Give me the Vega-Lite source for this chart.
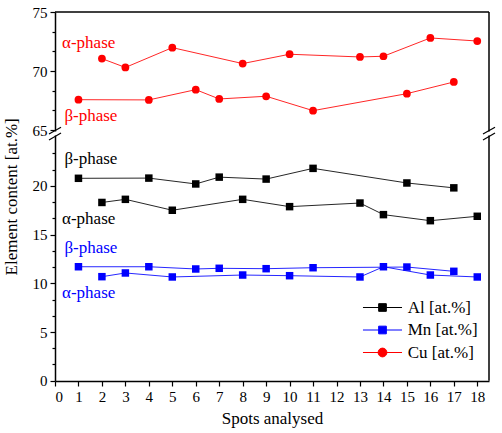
{
  "$schema": "https://vega.github.io/schema/vega-lite/v6.json",
  "width": 434,
  "height": 369,
  "autosize": {"type": "none"},
  "padding": {"left": 55, "top": 12, "right": 13, "bottom": 52},
  "background": "white",
  "config": {
    "font": "Liberation Serif",
    "view": {"stroke": null},
    "axis": {"labelFont": "Liberation Serif", "titleFont": "Liberation Serif", "labelColor": "black", "titleColor": "black", "domainColor": "black", "tickColor": "black", "grid": false, "titleFontWeight": "normal"},
    "legend": {"labelFont": "Liberation Serif"}
  },
  "datasets": {
    "pts": [
      {"spot": 2, "value": 18.3, "element": "Al [at.%]", "phase": "Al alpha"},
      {"spot": 3, "value": 18.62, "element": "Al [at.%]", "phase": "Al alpha"},
      {"spot": 5, "value": 17.5, "element": "Al [at.%]", "phase": "Al alpha"},
      {"spot": 8, "value": 18.62, "element": "Al [at.%]", "phase": "Al alpha"},
      {"spot": 10, "value": 17.87, "element": "Al [at.%]", "phase": "Al alpha"},
      {"spot": 13, "value": 18.24, "element": "Al [at.%]", "phase": "Al alpha"},
      {"spot": 14, "value": 17.05, "element": "Al [at.%]", "phase": "Al alpha"},
      {"spot": 16, "value": 16.43, "element": "Al [at.%]", "phase": "Al alpha"},
      {"spot": 18, "value": 16.88, "element": "Al [at.%]", "phase": "Al alpha"},
      {"spot": 1, "value": 20.78, "element": "Al [at.%]", "phase": "Al beta"},
      {"spot": 4, "value": 20.8, "element": "Al [at.%]", "phase": "Al beta"},
      {"spot": 6, "value": 20.2, "element": "Al [at.%]", "phase": "Al beta"},
      {"spot": 7, "value": 20.9, "element": "Al [at.%]", "phase": "Al beta"},
      {"spot": 9, "value": 20.7, "element": "Al [at.%]", "phase": "Al beta"},
      {"spot": 11, "value": 21.8, "element": "Al [at.%]", "phase": "Al beta"},
      {"spot": 15, "value": 20.3, "element": "Al [at.%]", "phase": "Al beta"},
      {"spot": 17, "value": 19.8, "element": "Al [at.%]", "phase": "Al beta"},
      {"spot": 2, "value": 10.68, "element": "Mn [at.%]", "phase": "Mn alpha"},
      {"spot": 3, "value": 11.06, "element": "Mn [at.%]", "phase": "Mn alpha"},
      {"spot": 5, "value": 10.65, "element": "Mn [at.%]", "phase": "Mn alpha"},
      {"spot": 8, "value": 10.85, "element": "Mn [at.%]", "phase": "Mn alpha"},
      {"spot": 10, "value": 10.78, "element": "Mn [at.%]", "phase": "Mn alpha"},
      {"spot": 13, "value": 10.65, "element": "Mn [at.%]", "phase": "Mn alpha"},
      {"spot": 14, "value": 11.7, "element": "Mn [at.%]", "phase": "Mn alpha"},
      {"spot": 16, "value": 10.85, "element": "Mn [at.%]", "phase": "Mn alpha"},
      {"spot": 18, "value": 10.65, "element": "Mn [at.%]", "phase": "Mn alpha"},
      {"spot": 1, "value": 11.7, "element": "Mn [at.%]", "phase": "Mn beta"},
      {"spot": 4, "value": 11.7, "element": "Mn [at.%]", "phase": "Mn beta"},
      {"spot": 6, "value": 11.47, "element": "Mn [at.%]", "phase": "Mn beta"},
      {"spot": 7, "value": 11.54, "element": "Mn [at.%]", "phase": "Mn beta"},
      {"spot": 9, "value": 11.5, "element": "Mn [at.%]", "phase": "Mn beta"},
      {"spot": 11, "value": 11.6, "element": "Mn [at.%]", "phase": "Mn beta"},
      {"spot": 15, "value": 11.67, "element": "Mn [at.%]", "phase": "Mn beta"},
      {"spot": 17, "value": 11.23, "element": "Mn [at.%]", "phase": "Mn beta"},
      {"spot": 2, "value": 71.05, "element": "Cu [at.%]", "phase": "Cu alpha"},
      {"spot": 3, "value": 70.3, "element": "Cu [at.%]", "phase": "Cu alpha"},
      {"spot": 5, "value": 71.98, "element": "Cu [at.%]", "phase": "Cu alpha"},
      {"spot": 8, "value": 70.63, "element": "Cu [at.%]", "phase": "Cu alpha"},
      {"spot": 10, "value": 71.42, "element": "Cu [at.%]", "phase": "Cu alpha"},
      {"spot": 13, "value": 71.19, "element": "Cu [at.%]", "phase": "Cu alpha"},
      {"spot": 14, "value": 71.25, "element": "Cu [at.%]", "phase": "Cu alpha"},
      {"spot": 16, "value": 72.8, "element": "Cu [at.%]", "phase": "Cu alpha"},
      {"spot": 18, "value": 72.54, "element": "Cu [at.%]", "phase": "Cu alpha"},
      {"spot": 1, "value": 67.57, "element": "Cu [at.%]", "phase": "Cu beta"},
      {"spot": 4, "value": 67.55, "element": "Cu [at.%]", "phase": "Cu beta"},
      {"spot": 6, "value": 68.42, "element": "Cu [at.%]", "phase": "Cu beta"},
      {"spot": 7, "value": 67.63, "element": "Cu [at.%]", "phase": "Cu beta"},
      {"spot": 9, "value": 67.86, "element": "Cu [at.%]", "phase": "Cu beta"},
      {"spot": 11, "value": 66.64, "element": "Cu [at.%]", "phase": "Cu beta"},
      {"spot": 15, "value": 68.08, "element": "Cu [at.%]", "phase": "Cu beta"},
      {"spot": 17, "value": 69.07, "element": "Cu [at.%]", "phase": "Cu beta"}
    ],
    "labels": [
      {"spot": 0.3, "value": 72.35, "element": "Cu [at.%]", "text": "α-phase"},
      {"spot": 0.4, "value": 66.16, "element": "Cu [at.%]", "text": "β-phase"},
      {"spot": 0.4, "value": 22.76, "element": "Al [at.%]", "text": "β-phase"},
      {"spot": 0.3, "value": 16.57, "element": "Al [at.%]", "text": "α-phase"},
      {"spot": 0.4, "value": 13.65, "element": "Mn [at.%]", "text": "β-phase"},
      {"spot": 0.3, "value": 9.03, "element": "Mn [at.%]", "text": "α-phase"}
    ],
    "frame": [
      {"spot": 0, "spot2": 18.5, "value": 75, "value2": 75},
      {"spot": 18.5, "spot2": 18.5, "value": 0, "value2": 75}
    ],
    "gaps": [
      {"spot": 0, "value": 34.4, "value2": 56.7},
      {"spot": 18.5, "value": 34.4, "value2": 56.7}
    ],
    "breaks": [
      {"spot": -0.256, "spot2": 0.256, "value": 42.8, "value2": 65.23},
      {"spot": -0.256, "spot2": 0.256, "value": 24.71, "value2": 48.3},
      {"spot": 18.244, "spot2": 18.756, "value": 42.8, "value2": 65.23},
      {"spot": 18.244, "spot2": 18.756, "value": 24.71, "value2": 48.3}
    ]
  },
  "encoding": {
    "x": {
      "field": "spot", "type": "quantitative",
      "scale": {"domain": [0, 18.5], "nice": false, "zero": false},
      "axis": {
        "title": "Spots analysed", "titleFontSize": 17, "titlePadding": 6,
        "values": [0,1,2,3,4,5,6,7,8,9,10,11,12,13,14,15,16,17,18],
        "format": "d", "labelFontSize": 15, "labelPadding": 3,
        "tickSize": 5, "tickWidth": 1.2, "domainWidth": 1.5
      }
    },
    "y": {
      "field": "value", "type": "quantitative",
      "scale": {"domain": [0, 25, 65, 75], "range": [368.7, 125.2, 118, 0], "nice": false, "zero": false},
      "axis": {
        "title": "Element content [at.%]", "titleFontSize": 17, "titlePadding": 12,
        "values": [0,1.6667,3.3333,5,6.6667,8.3333,10,11.6667,13.3333,15,16.6667,18.3333,20,21.6667,23.3333,65,66.6667,68.3333,70,71.6667,73.3333,75],
        "labelExpr": "abs(datum.value/5 - round(datum.value/5)) < 0.01 ? format(datum.value, 'd') : ''",
        "tickSize": {"condition": {"test": "abs(datum.value/5 - round(datum.value/5)) > 0.01", "value": 3}, "value": 5},
        "labelFontSize": 15, "labelPadding": 3, "tickWidth": 1.2, "domainWidth": 1.5
      }
    }
  },
  "layer": [
    {
      "data": {"name": "pts"},
      "mark": {"type": "line", "strokeWidth": 1, "strokeOpacity": 0.85},
      "encoding": {
        "color": {
          "field": "element", "type": "nominal",
          "scale": {"domain": ["Al [at.%]", "Mn [at.%]", "Cu [at.%]"], "range": ["#000000", "#0000ff", "#ff0000"]},
          "legend": {
            "title": null, "orient": "none", "legendX": 319, "legendY": 287,
            "padding": 0, "labelFont": "Liberation Serif", "labelFontSize": 17, "labelColor": "black",
            "labelOffset": 16.7, "rowPadding": 4.5, "symbolSize": 256,
            "encode": {
              "symbols": {
                "update": {
                  "shape": {"signal": "datum.value === 'Cu [at.%]' ? 'M-2.44,0H2.44M0.55,0A0.55,0.55,0,1,1,-0.55,0A0.55,0.55,0,1,1,0.55,0Z' : 'M-2.44,0H2.44M-0.48,-0.48H0.48V0.48H-0.48Z'"},
                  "size": {"value": 256},
                  "strokeWidth": {"value": 1},
                  "opacity": {"value": 1},
                  "fillOpacity": {"value": 1},
                  "strokeOpacity": {"value": 1},
                  "stroke": {"signal": "datum.value === 'Cu [at.%]' ? '#ff0000' : (datum.value === 'Mn [at.%]' ? '#0000ff' : '#000000')"},
                  "fill": {"signal": "datum.value === 'Cu [at.%]' ? '#ff0000' : (datum.value === 'Mn [at.%]' ? '#0000ff' : '#000000')"}
                }
              }
            }
          }
        },
        "detail": {"field": "phase"}
      }
    },
    {
      "data": {"name": "pts"},
      "transform": [{"filter": "datum.element !== 'Cu [at.%]'"}],
      "mark": {"type": "square", "opacity": 1, "size": 56},
      "encoding": {
        "color": {"field": "element", "type": "nominal"}
      }
    },
    {
      "data": {"name": "pts"},
      "transform": [{"filter": "datum.element === 'Cu [at.%]'"}],
      "mark": {"type": "circle", "opacity": 1, "size": 60},
      "encoding": {
        "color": {"field": "element", "type": "nominal"}
      }
    },
    {
      "data": {"name": "labels"},
      "mark": {"type": "text", "align": "left", "baseline": "middle", "fontSize": 17, "font": "Liberation Serif"},
      "encoding": {
        "text": {"field": "text"},
        "color": {"field": "element", "type": "nominal"}
      }
    },
    {
      "data": {"name": "frame"},
      "mark": {"type": "rule", "color": "black", "strokeWidth": 1.5},
      "encoding": {"x2": {"field": "spot2"}, "y2": {"field": "value2"}}
    },
    {
      "data": {"name": "gaps"},
      "mark": {"type": "rule", "color": "white", "strokeWidth": 4},
      "encoding": {"y2": {"field": "value2"}}
    },
    {
      "data": {"name": "breaks"},
      "mark": {"type": "rule", "color": "black", "strokeWidth": 1.2},
      "encoding": {"x2": {"field": "spot2"}, "y2": {"field": "value2"}}
    }
  ]
}
